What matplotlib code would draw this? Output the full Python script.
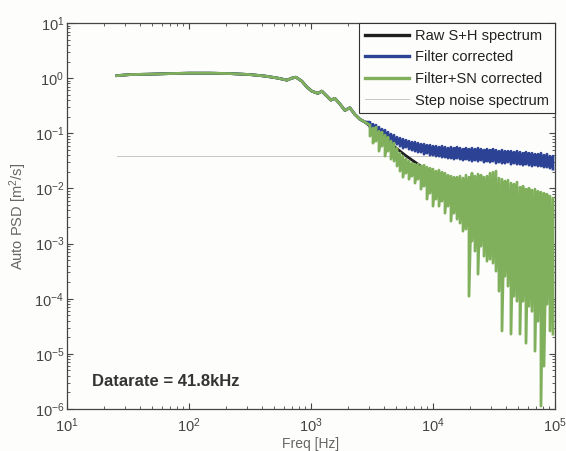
import numpy as np
import matplotlib
matplotlib.use("Agg")
import matplotlib.pyplot as plt
from matplotlib.ticker import LogLocator, NullFormatter

plt.rcParams['font.family'] = ['Liberation Sans', 'DejaVu Sans']
plt.rcParams['mathtext.fontset'] = 'custom'
plt.rcParams['mathtext.rm'] = 'Liberation Sans'
plt.rcParams['mathtext.it'] = 'Liberation Sans:italic'
plt.rcParams['mathtext.bf'] = 'Liberation Sans:bold'

# ---------------- data ----------------
# common low-frequency part (all three spectra coincide)
shared_f = [25.7, 32.8, 47.9, 69.7, 100, 148, 217, 317, 420, 536, 635, 697, 752,
            842, 925, 1016, 1138, 1228, 1325, 1455, 1569, 1725, 1895, 2082, 2288,
            2514, 2763]
shared_v = [1.11, 1.16, 1.18, 1.21, 1.23, 1.23, 1.21, 1.16, 1.09, 1.0, 0.92, 1.0, 1.04,
            0.88, 0.69, 0.58, 0.53, 0.58, 0.49, 0.40, 0.43, 0.34, 0.26, 0.29, 0.22,
            0.18, 0.16]

# high-frequency noisy part: frequencies with upper / lower excursions
tail_f = [3045, 3223, 3410, 3609, 3819, 4042, 4277, 4526, 4790, 5069,
          5364, 5676, 6007, 6357, 6727, 7119, 7534, 7972, 8437, 8928,
          9448, 10000, 10582, 11199, 11851, 12541, 13272, 14045, 14863, 15729,
          16645, 17614, 18640, 19726, 20875, 22091, 23377, 24738, 26180, 27705,
          29318, 31025, 32833, 34745, 36769, 38910, 41176, 43575, 46113, 48799,
          51641, 54649, 57832, 61200, 64765, 68537, 72530, 76755, 81225, 85956,
          90963, 96262]

green_hi = [0.14, 0.124, 0.129, 0.109, 0.105, 0.0925, 0.0851, 0.072, 0.0662, 0.0538,
            0.0436, 0.0385, 0.034, 0.0312, 0.0287, 0.0275, 0.0275, 0.0254, 0.0264, 0.0243,
            0.0233, 0.0224, 0.0206, 0.0215, 0.0197, 0.0189, 0.0174, 0.0167, 0.016, 0.016,
            0.0167, 0.0154, 0.0174, 0.016, 0.0189, 0.0167, 0.0182, 0.0174, 0.016, 0.0167,
            0.0189, 0.0197, 0.0206, 0.0154, 0.0147, 0.0136, 0.0141, 0.0125, 0.012, 0.013,
            0.0105, 0.011, 0.0097, 0.0101, 0.0093, 0.0097, 0.0089, 0.00855, 0.0082, 0.00787,
            0.00725, 0.00667]
green_lo = [0.0887, 0.0662, 0.072, 0.0474, 0.0584, 0.0385, 0.0474, 0.034, 0.0312, 0.0254,
            0.0206, 0.016, 0.0189, 0.0147, 0.0167, 0.0125, 0.0147, 0.0097, 0.011, 0.0064,
            0.0082, 0.00477, 0.0064, 0.00477, 0.00588, 0.00356, 0.00477, 0.00255, 0.00356, 0.00277,
            0.00235, 0.00168, 0.00183, 0.000111, 0.00111, 0.000729, 0.000279, 0.000898, 0.000591, 0.00048,
            0.000521, 0.000441, 0.000316, 0.000137, 2.6e-5, 0.000257, 0.000169, 2.28e-5, 0.000111, 9.0e-5,
            2.28e-5, 9.0e-5, 1.56e-5, 7.3e-5, 5.9e-5, 1.12e-5, 3.9e-5, 1.13e-6, 5.98e-6, 7.96e-5,
            2.6e-5, 2.28e-5]

blue_hi = [0.159, 0.1465, 0.1405, 0.129, 0.119, 0.114, 0.105, 0.0965, 0.0925, 0.0851,
           0.0816, 0.0783, 0.0751, 0.072, 0.0691, 0.0691, 0.0662, 0.0635, 0.0635, 0.0609,
           0.0609, 0.0584, 0.0584, 0.0561, 0.0584, 0.0561, 0.0538, 0.0561, 0.0538, 0.0561,
           0.0538, 0.0516, 0.0538, 0.0516, 0.0538, 0.0516, 0.0538, 0.0516, 0.0495, 0.0516,
           0.0495, 0.0516, 0.0495, 0.0474, 0.0495, 0.0474, 0.0474, 0.0474, 0.0455, 0.0474,
           0.0455, 0.0436, 0.0455, 0.0436, 0.0436, 0.0418, 0.0418, 0.0436, 0.0402, 0.0418,
           0.0385, 0.0385]
blue_lo = [0.129, 0.119, 0.109, 0.1006, 0.0925, 0.0816, 0.0783, 0.0691, 0.0662, 0.0635,
           0.0584, 0.0538, 0.0561, 0.0516, 0.0495, 0.0474, 0.0455, 0.0455, 0.0418, 0.0436,
           0.0402, 0.0402, 0.0385, 0.0385, 0.0369, 0.0369, 0.0354, 0.0354, 0.034, 0.0354,
           0.034, 0.0326, 0.034, 0.0326, 0.0312, 0.0326, 0.0312, 0.0326, 0.03, 0.0312,
           0.03, 0.0312, 0.0287, 0.03, 0.0287, 0.0287, 0.03, 0.0275, 0.0287, 0.0275,
           0.0275, 0.0264, 0.0275, 0.0264, 0.0254, 0.0264, 0.0254, 0.0254, 0.0243, 0.0243,
           0.0233, 0.0224]

raw_tail_f = [3045, 4042, 4882, 5896, 7119, 8600, 11415, 16645, 29318, 51641, 96262]
raw_tail_v = [0.135, 0.0816, 0.0561, 0.0402, 0.030, 0.0224, 0.0136, 0.0064, 0.00519, 0.00421, 0.00327]

step_f = [25.7, 96262]
step_v = [0.0385, 0.0385]

labels = ["Raw S+H spectrum", "Filter corrected", "Filter+SN corrected", "Step noise spectrum"]
annotation = "Datarate = 41.8kHz"

# ---------------- build series ----------------
tail_x = np.repeat(tail_f, 2)
green_y = np.column_stack([green_hi, green_lo]).ravel()
blue_y = np.column_stack([blue_hi, blue_lo]).ravel()

raw_x = np.concatenate([shared_f, raw_tail_f])
raw_y = np.concatenate([shared_v, raw_tail_v])
blue_x = np.concatenate([shared_f, tail_x])
blue_yy = np.concatenate([shared_v, blue_y])
green_x = np.concatenate([shared_f, tail_x])
green_yy = np.concatenate([shared_v, green_y])

# ---------------- figure ----------------
bg = '#fdfdfb'
fig = plt.figure(figsize=(5.66, 4.51), dpi=100, facecolor=bg)
ax = fig.add_axes([67/566, 42/451, 488/566, 386/451])
ax.set_facecolor(bg)

l_step, = ax.plot(step_f, step_v, color='#bdbdbd', lw=0.6, zorder=1, label=labels[3])
l_raw, = ax.plot(raw_x, raw_y, color='#1e1e1e', lw=2.0, zorder=2, label=labels[0])
l_blue, = ax.plot(blue_x, blue_yy, color='#2c4294', lw=2.0, zorder=3, label=labels[1])
l_green, = ax.plot(green_x, green_yy, color='#80b05c', lw=2.0, zorder=4, label=labels[2])

ax.set_xscale('log')
ax.set_yscale('log')
ax.set_xlim(10, 1e5)
ax.set_ylim(1e-6, 10)

ax.xaxis.set_major_locator(LogLocator(base=10, numticks=10))
ax.yaxis.set_major_locator(LogLocator(base=10, numticks=10))
ax.xaxis.set_minor_locator(LogLocator(base=10, subs=np.arange(2, 10), numticks=20))
ax.yaxis.set_minor_locator(LogLocator(base=10, subs=np.arange(2, 10), numticks=20))
ax.xaxis.set_minor_formatter(NullFormatter())
ax.yaxis.set_minor_formatter(NullFormatter())

for s in ax.spines.values():
    s.set_color('#444444')
    s.set_linewidth(0.9)

ax.tick_params(which='both', direction='in', top=True, right=True, colors='#444444',
               labelcolor='#444444', labelsize=10.5)
ax.tick_params(which='major', length=4, width=0.8)
ax.tick_params(which='minor', length=2, width=0.6)
ax.tick_params(axis='y', which='major', pad=2)
ax.tick_params(axis='x', which='major', pad=5)

ax.set_xlabel("Freq [Hz]", fontsize=10, color='#666666', labelpad=1.5)
ax.set_ylabel("Auto PSD [m$^2$/s]", fontsize=10.5, color='#666666', labelpad=4)

leg = ax.legend(handles=[l_raw, l_blue, l_green, l_step], labels=labels,
                loc='upper right', fontsize=10.5, frameon=True, fancybox=False,
                borderpad=0.4, labelspacing=0.52, handlelength=3.0, handletextpad=0.45,
                borderaxespad=0.0, labelcolor='#222222')
leg.get_frame().set_edgecolor('#333333')
leg.get_frame().set_linewidth(0.8)
leg.get_frame().set_facecolor(bg)
leg.get_frame().set_alpha(1)
for h in leg.get_lines()[:3]:
    h.set_linewidth(2.4)

ax.text(0.052, 0.072, annotation, transform=ax.transAxes, fontsize=12,
        fontweight='bold', color='#333333', va='center', ha='left')

fig.savefig("out.png", dpi=100, facecolor=fig.get_facecolor())
